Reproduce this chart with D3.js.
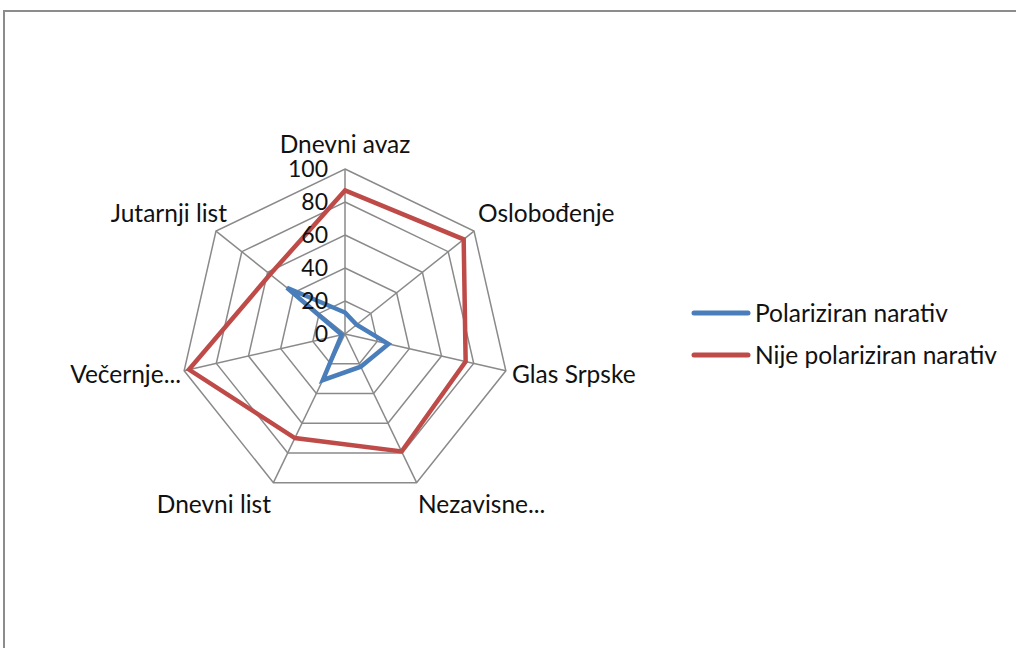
<!DOCTYPE html>
<html>
<head>
<meta charset="utf-8">
<script src="https://cdn.jsdelivr.net/npm/d3@7"></script>
<style>
  body { margin: 0; background: #fff; }
  text { font-family: Lato, "Open Sans", sans-serif; fill: #111; }
</style>
</head>
<body>
<script>
var categories = ["Dnevni avaz", "Oslobođenje", "Glas Srpske", "Nezavisne...", "Dnevni list", "Večernje...", "Jutarnji list"];
var polarized    = [13, 9, 27, 22, 31, 2, 45];
var notPolarized = [87, 92, 75, 79, 70, 97, 58];
var ticks = [0, 20, 40, 60, 80, 100];
var seriesNames = ["Polariziran narativ", "Nije polariziran narativ"];

var width = 1016, height = 648;
var cx = 345, cy = 334, radius = 165;
var colors = ["#4a7ebb", "#be4b48"];

var svg = d3.select("body").append("svg")
    .attr("width", width)
    .attr("height", height);

// chart frame (right and bottom edges fall outside the window)
svg.append("rect")
    .attr("x", 4).attr("y", 11)
    .attr("width", width + 10).attr("height", height + 10)
    .attr("fill", "none")
    .attr("stroke", "#8c8c8c")
    .attr("stroke-width", 2);

var r = d3.scaleLinear().domain([0, 100]).range([0, radius]);
var angle = d3.scalePoint().domain(d3.range(categories.length)).range([0, 2 * Math.PI * (categories.length - 1) / categories.length]);

function pt(i, v) {
    var a = angle(i);
    return [cx + r(v) * Math.sin(a), cy - r(v) * Math.cos(a)];
}

var g = svg.append("g");

// grid rings
ticks.slice(1).forEach(function (t) {
    g.append("path")
        .attr("d", d3.line()(categories.map(function (c, i) { return pt(i, t); })) + "Z")
        .attr("fill", "none")
        .attr("stroke", "#8a8a8a")
        .attr("stroke-width", 1.5);
});

// spokes
categories.forEach(function (c, i) {
    var p = pt(i, 100);
    g.append("line")
        .attr("x1", cx).attr("y1", cy)
        .attr("x2", p[0]).attr("y2", p[1])
        .attr("stroke", "#8a8a8a")
        .attr("stroke-width", 1.5);
});

// series
[polarized, notPolarized].forEach(function (vals, k) {
    g.append("path")
        .attr("d", d3.line()(vals.map(function (v, i) { return pt(i, v); })) + "Z")
        .attr("fill", "none")
        .attr("stroke", colors[k])
        .attr("stroke-width", 4.5)
        .attr("stroke-linejoin", "miter");
});

// tick labels
ticks.forEach(function (t) {
    g.append("text")
        .attr("x", cx - 17)
        .attr("y", cy - r(t))
        .attr("dy", "0.35em")
        .attr("text-anchor", "end")
        .style("font-size", "23px")
        .text(t);
});

// category labels
var labelPos = [
    { x: 345, y: 153, anchor: "middle" },
    { x: 478, y: 222, anchor: "start" },
    { x: 512, y: 383, anchor: "start" },
    { x: 418, y: 513, anchor: "start" },
    { x: 271, y: 513, anchor: "end" },
    { x: 181, y: 383, anchor: "end" },
    { x: 227, y: 222, anchor: "end" }
];
categories.forEach(function (c, i) {
    g.append("text")
        .attr("x", labelPos[i].x)
        .attr("y", labelPos[i].y)
        .attr("text-anchor", labelPos[i].anchor)
        .style("font-size", "24.5px")
        .text(c);
});

// legend
var legend = svg.append("g");
seriesNames.forEach(function (name, k) {
    var y = 313 + k * 42;
    legend.append("line")
        .attr("x1", 694).attr("x2", 748)
        .attr("y1", y).attr("y2", y)
        .attr("stroke", colors[k])
        .attr("stroke-width", 5)
        .attr("stroke-linecap", "round");
    legend.append("text")
        .attr("x", 755).attr("y", y)
        .attr("dy", "0.35em")
        .style("font-size", "24.5px")
        .text(name);
});
</script>
</body>
</html>
